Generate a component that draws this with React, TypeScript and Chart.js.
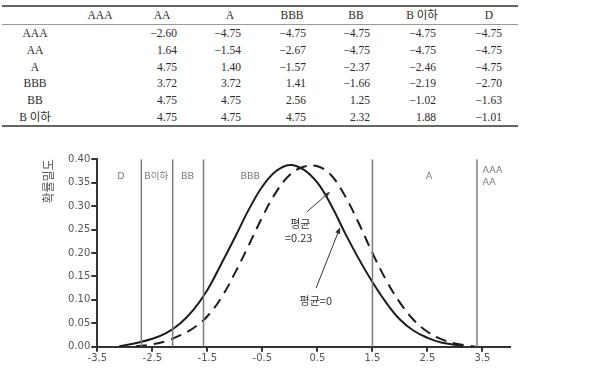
import React, { useEffect, useRef } from "react";
import { Chart, registerables } from "chart.js";

Chart.register(...registerables);

// ---- threshold table ----
const colHeaders = ["AAA", "AA", "A", "BBB", "BB", "B 이하", "D"];
const rowHeaders = ["AAA", "AA", "A", "BBB", "BB", "B 이하"];
// values for columns AA .. D (AAA column is empty)
const rowAAA = [-2.6, -4.75, -4.75, -4.75, -4.75, -4.75];
const rowAA = [1.64, -1.54, -2.67, -4.75, -4.75, -4.75];
const rowA = [4.75, 1.4, -1.57, -2.37, -2.46, -4.75];
const rowBBB = [3.72, 3.72, 1.41, -1.66, -2.19, -2.7];
const rowBB = [4.75, 4.75, 2.56, 1.25, -1.02, -1.63];
const rowBUnder = [4.75, 4.75, 4.75, 2.32, 1.88, -1.01];
const tableRows = [rowAAA, rowAA, rowA, rowBBB, rowBB, rowBUnder];

// ---- density curves ----
const solidX = [-3.1, -2.75, -2.5, -2.25, -2.0, -1.75, -1.5, -1.25, -1.0, -0.75, -0.5, -0.25, 0.0, 0.25, 0.5, 0.75, 1.0, 1.25, 1.5, 1.75, 2.0, 2.25, 2.5, 2.75, 3.0, 3.15];
const solidY = [0.001, 0.009, 0.017, 0.029, 0.049, 0.079, 0.121, 0.176, 0.233, 0.292, 0.342, 0.375, 0.388, 0.378, 0.35, 0.302, 0.243, 0.188, 0.138, 0.094, 0.058, 0.034, 0.019, 0.009, 0.004, 0.001];
const dashedX = [-2.8, -2.5, -2.25, -2.0, -1.75, -1.5, -1.25, -1.0, -0.75, -0.5, -0.25, 0.0, 0.25, 0.5, 0.75, 1.0, 1.25, 1.5, 1.75, 2.0, 2.25, 2.5, 2.75, 3.0, 3.25, 3.37];
const dashedY = [0.001, 0.005, 0.012, 0.024, 0.04, 0.065, 0.104, 0.157, 0.216, 0.277, 0.33, 0.367, 0.384, 0.385, 0.366, 0.322, 0.264, 0.2, 0.142, 0.094, 0.057, 0.032, 0.016, 0.007, 0.002, 0.0];

// rating boundaries drawn as vertical rules
const thresholds = [-2.7, -2.13, -1.57, 1.5, 3.4];
const zoneNames = ["D", "B이하", "BB", "BBB", "A"];
const topZoneNames = ["AAA", "AA"];

const xTickValues = [-3.5, -2.5, -1.5, -0.5, 0.5, 1.5, 2.5, 3.5];
const xTickLabels = ["-3.5", "-2.5", "-1.5", "-0.5", "0.5", "1.5", "2.5", "3.5"];
const yAxisTitle = "확률밀도";
const meanShiftNote = ["평균", "=0.23"];
const meanZeroNote = "평균=0";

const fmt = (v: number) => (v < 0 ? "\u2212" : "") + Math.abs(v).toFixed(2);

function drawArrow(ctx: CanvasRenderingContext2D, x1: number, y1: number, x2: number, y2: number) {
  const a = Math.atan2(y2 - y1, x2 - x1);
  const head = 7;
  ctx.beginPath();
  ctx.moveTo(x1, y1);
  ctx.lineTo(x2 - Math.cos(a) * head * 0.8, y2 - Math.sin(a) * head * 0.8);
  ctx.stroke();
  ctx.beginPath();
  ctx.moveTo(x2, y2);
  ctx.lineTo(x2 - head * Math.cos(a - 0.38), y2 - head * Math.sin(a - 0.38));
  ctx.lineTo(x2 - head * Math.cos(a + 0.38), y2 - head * Math.sin(a + 0.38));
  ctx.closePath();
  ctx.fill();
}

const notesPlugin = {
  id: "notes",
  afterDatasetsDraw(chart: any) {
    const { ctx, scales } = chart;
    const X = (v: number) => scales.x.getPixelForValue(v);
    const Y = (v: number) => scales.y.getPixelForValue(v);
    ctx.save();
    // zone names
    ctx.fillStyle = "#7a7a7a";
    ctx.font = '9.5px "DejaVu Sans", "Noto Sans CJK KR"';
    ctx.textAlign = "center";
    ctx.textBaseline = "middle";
    const zoneX = [-3.07, -2.43, -1.86, -0.72, 2.53];
    zoneNames.forEach((n, i) => ctx.fillText(n, X(zoneX[i]), Y(0.363)));
    ctx.textAlign = "left";
    ctx.fillText(topZoneNames[0], X(3.5), Y(0.375));
    ctx.fillText(topZoneNames[1], X(3.5), Y(0.351));

    // mean annotations
    ctx.fillStyle = "#333";
    ctx.font = '11px "Noto Sans CJK KR"';
    ctx.textAlign = "center";
    ctx.fillText(meanShiftNote[0], X(0.19), Y(0.262));
    ctx.fillText(meanShiftNote[1], X(0.16), Y(0.233));
    ctx.fillText(meanZeroNote, X(0.47), Y(0.099));

    ctx.strokeStyle = "#333";
    ctx.lineWidth = 1;
    drawArrow(ctx, X(0.31), Y(0.288), X(0.73), Y(0.331));
    drawArrow(ctx, X(0.476), Y(0.125), X(0.913), Y(0.255));
    ctx.restore();
  },
};

function DensityChart() {
  const ref = useRef<HTMLCanvasElement | null>(null);
  useEffect(() => {
    if (!ref.current) return;
    const ruleSets = thresholds.map((t) => ({
      data: [
        { x: t, y: 0 },
        { x: t, y: 0.4 },
      ],
      borderColor: "#7d7d7d",
      borderWidth: 1.5,
      pointRadius: 0,
      tension: 0,
    }));
    const chart = new Chart(ref.current, {
      type: "line",
      data: {
        datasets: [
          ...ruleSets,
          {
            data: solidX.map((x, i) => ({ x, y: solidY[i] })),
            borderColor: "#1c1c1c",
            borderWidth: 2,
            pointRadius: 0,
            tension: 0.4,
          },
          {
            data: dashedX.map((x, i) => ({ x, y: dashedY[i] })),
            borderColor: "#1c1c1c",
            borderWidth: 2,
            borderDash: [11, 7],
            pointRadius: 0,
            tension: 0.4,
          },
        ] as any,
      },
      options: {
        animation: false,
        responsive: false,
        layout: { padding: { left: 41, right: 90, top: 19.3, bottom: 0 } },
        plugins: { legend: { display: false }, tooltip: { enabled: false } },
        scales: {
          x: {
            type: "linear",
            min: -3.5,
            max: 4.0,
            afterFit: (s: any) => {
              s.height = 27.3;
            },
            afterBuildTicks: (s: any) => {
              s.ticks = xTickValues.map((v) => ({ value: v }));
            },
            ticks: {
              autoSkip: false,
              maxRotation: 0,
              padding: 1,
              color: "#555",
              font: { family: "DejaVu Sans", size: 10 },
              callback: (v: any) => xTickLabels[xTickValues.indexOf(Number(v))] ?? "",
            },
            grid: { drawOnChartArea: false, drawTicks: true, tickLength: 5, color: "#333", lineWidth: 2 },
            border: { color: "#333", width: 2 },
          },
          y: {
            type: "linear",
            min: 0,
            max: 0.4,
            afterFit: (s: any) => {
              s.width = 56.3;
            },
            ticks: {
              stepSize: 0.05,
              padding: 1,
              color: "#555",
              font: { family: "DejaVu Sans", size: 10 },
              callback: (v: any) => Number(v).toFixed(2),
            },
            title: {
              display: true,
              text: yAxisTitle,
              align: "end",
              padding: 0,
              color: "#555",
              font: { family: "Noto Sans CJK KR", size: 12 },
            },
            grid: { drawOnChartArea: false, drawTicks: true, tickLength: 6, color: "#333", lineWidth: 2 },
            border: { color: "#333", width: 2 },
          },
        },
      } as any,
      plugins: [notesPlugin],
    });
    return () => chart.destroy();
  }, []);
  return <canvas ref={ref} width={600} height={234} style={{ width: 600, height: 234, display: "block" }} />;
}

const headerX = [100, 162, 230, 292, 356, 422, 489];
const numRightX = [177, 241, 306, 370, 436, 502];
const rowY = [33, 50, 67, 83, 100, 117];

function ThresholdTable() {
  const font = '"Liberation Serif", "Noto Sans CJK KR", serif';
  const cell = (key: string, text: string, x: number, y: number, align: "center" | "right") => (
    <div
      key={key}
      style={{
        position: "absolute",
        top: y - 7,
        height: 14,
        lineHeight: "14px",
        whiteSpace: "nowrap",
        ...(align === "center" ? { left: x, transform: "translateX(-50%)" } : { right: 600 - x }),
      }}
    >
      {text}
    </div>
  );
  const rule = (key: string, y: number, w: number, c: string) => (
    <div key={key} style={{ position: "absolute", left: 2, width: 516, top: y - w / 2, height: w, background: c }} />
  );
  return (
    <div style={{ position: "absolute", left: 0, top: 0, width: 600, height: 134, fontFamily: font, fontSize: 11.5, color: "#2a2a2a" }}>
      {rule("r0", 6, 1.5, "#666")}
      {rule("r1", 24, 1, "#999")}
      {rule("r2", 126, 1.5, "#666")}
      {colHeaders.map((h, i) => cell("h" + i, h, headerX[i], 15, "center"))}
      {rowHeaders.map((r, i) => cell("rh" + i, r, 35, rowY[i], "center"))}
      {tableRows.map((row, i) => row.map((v, j) => cell(`c${i}-${j}`, fmt(v), numRightX[j], rowY[i], "right")))}
    </div>
  );
}

export default function App() {
  return (
    <div style={{ position: "absolute", left: 0, top: 0, width: 600, height: 374, background: "#fff", overflow: "hidden" }}>
      <ThresholdTable />
      <div style={{ position: "absolute", left: 0, top: 140 }}>
        <DensityChart />
      </div>
    </div>
  );
}
